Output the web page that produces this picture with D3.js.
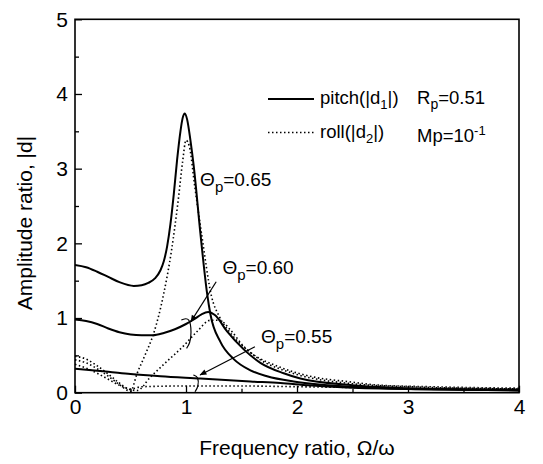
<!DOCTYPE html>
<html>
<head>
<meta charset="utf-8">
<script src="https://cdn.jsdelivr.net/npm/d3@7"></script>
<style>
  body { margin: 0; background: #fff; }
  svg { display: block; }
  text { font-family: "Liberation Sans", Arial, sans-serif; fill: #000; }
</style>
</head>
<body>
<svg id="viz" width="543" height="464"></svg>
<script>
(function () {
  "use strict";

  // Tick values
  const xTicks = [0, 1, 2, 3, 4];
  const xMinor = [0.5, 1.5, 2.5, 3.5];
  const yTicks = [0, 1, 2, 3, 4, 5];
  const yMinor = [0.5, 1.5, 2.5, 3.5, 4.5];

  // Pitch curves |d1| : [freq ratio, amplitude]
  const pitch065 = [[0,1.71],[0.1,1.68],[0.2,1.62],[0.3,1.55],[0.4,1.48],[0.53,1.43],[0.6,1.44],
    [0.66,1.47],[0.72,1.53],[0.77,1.64],[0.8,1.76],[0.83,1.96],[0.86,2.26],[0.89,2.66],[0.92,3.12],
    [0.95,3.5],[0.97,3.68],[0.99,3.74],[1.01,3.66],[1.04,3.38],
    [1.07,3.03],[1.13,2.13],[1.19,1.33],[1.22,1.05],[1.31,0.68],[1.43,0.45],[1.58,0.30],
    [1.73,0.22],[1.97,0.15],[2.2,0.11],[2.5,0.08],[3.0,0.05],[3.5,0.04],[4.0,0.03]];
  const pitch060 = [[0,0.98],[0.1,0.96],[0.2,0.92],[0.3,0.86],[0.4,0.81],[0.5,0.78],[0.6,0.77],
    [0.7,0.77],[0.8,0.8],[0.9,0.85],[1.0,0.92],[1.07,0.98],[1.14,1.05],[1.2,1.08],[1.26,1.04],
    [1.37,0.82],[1.52,0.58],[1.67,0.4],[1.88,0.26],[2.03,0.19],[2.5,0.1],[3.0,0.06],[3.5,0.04],[4.0,0.03]];
  const pitch055 = [[0,0.32],[0.3,0.28],[0.5,0.25],[0.77,0.22],[1.13,0.19],[1.58,0.15],
    [1.85,0.13],[2.1,0.1],[2.45,0.07],[3.0,0.05],[4.0,0.04]];

  // Roll curves |d2|
  const roll065 = [[0,0.44],[0.1,0.4],[0.2,0.32],[0.3,0.22],[0.4,0.11],[0.5,0.02],[0.56,0.26],
    [0.63,0.5],[0.71,0.8],[0.8,1.33],[0.87,1.91],[0.93,2.58],[0.97,3.1],[1.0,3.38],[1.03,3.3],
    [1.08,2.75],[1.14,2.13],[1.23,1.29],[1.3,1.02],[1.4,0.8],[1.58,0.54],[1.85,0.34],
    [2.15,0.21],[2.45,0.15],[2.75,0.1],[3.2,0.08],[4.0,0.06]];
  const roll060 = [[0,0.49],[0.1,0.45],[0.2,0.36],[0.3,0.25],[0.4,0.13],[0.5,0.04],[0.56,0.03],
    [0.68,0.21],[0.8,0.38],[0.98,0.63],[1.1,0.82],[1.22,0.97],[1.3,0.97],[1.4,0.84],[1.52,0.62],
    [1.67,0.44],[1.88,0.3],[2.03,0.23],[2.5,0.12],[3.0,0.08],[4.0,0.05]];
  const roll055 = [[0,0.38],[0.1,0.33],[0.2,0.26],[0.3,0.18],[0.4,0.1],[0.5,0.05],[0.6,0.08],
    [1.0,0.09],[1.5,0.09],[2.0,0.08],[2.5,0.07],[3.0,0.06],[4.0,0.05]];

  const pitchSeries = [pitch065, pitch060, pitch055];
  const rollSeries = [roll065, roll060, roll055];

  // Annotations (data units)
  const labels = [
    { text: "0.65", at: [1.127, 2.77] },
    { text: "0.60", at: [1.328, 1.59] },
    { text: "0.55", at: [1.676, 0.66] }
  ];
  const arrows = [
    [[1.272, 1.486], [1.044, 0.951]],
    [[1.621, 0.616], [1.127, 0.237]]
  ];
  const brackets = [
    [[0.958, 0.973], [1.035, 1.018], [1.050, 0.795], [1.035, 0.661], [1.005, 0.594]],
    [[1.066, 0.237], [1.112, 0.214], [1.112, 0.080], [1.081, 0.013]]
  ];

  /*
  |--------------------------------------------------------------------------
  | Layout
  |--------------------------------------------------------------------------
  */
  let plot = { left: 75, right: 519, top: 19.3, bottom: 392.7 };

  let x = d3.scaleLinear().domain([0, 4]).range([plot.left, plot.right]);
  let y = d3.scaleLinear().domain([0, 5]).range([plot.bottom, plot.top]);

  let svg = d3.select("#viz");

  svg.append("defs").append("marker")
    .attr("id", "arrow")
    .attr("viewBox", "0 0 10 10")
    .attr("refX", 9).attr("refY", 5)
    .attr("markerWidth", 9).attr("markerHeight", 7)
    .attr("markerUnits", "userSpaceOnUse")
    .attr("orient", "auto")
    .append("path")
    .attr("d", "M0,1 L10,5 L0,9 Z")
    .attr("fill", "#000");

  // frame
  svg.append("rect")
    .attr("x", plot.left).attr("y", plot.top)
    .attr("width", plot.right - plot.left)
    .attr("height", plot.bottom - plot.top)
    .attr("fill", "none").attr("stroke", "#000").attr("stroke-width", 1.6);

  // axes
  svg.append("g")
    .attr("transform", `translate(0,${plot.bottom})`)
    .call(d3.axisBottom(x).tickValues(xTicks).tickSize(-7).tickSizeOuter(0).tickPadding(6).tickFormat(d3.format("d")));
  svg.append("g")
    .attr("transform", `translate(0,${plot.bottom})`)
    .call(d3.axisBottom(x).tickValues(xMinor).tickSize(-4).tickSizeOuter(0).tickFormat(""));
  svg.append("g")
    .attr("transform", `translate(${plot.left},0)`)
    .call(d3.axisLeft(y).tickValues(yTicks).tickSize(-7).tickSizeOuter(0).tickPadding(7).tickFormat(d3.format("d")));
  svg.append("g")
    .attr("transform", `translate(${plot.left},0)`)
    .call(d3.axisLeft(y).tickValues(yMinor).tickSize(-4).tickSizeOuter(0).tickFormat(""));

  svg.selectAll(".domain").remove();
  svg.selectAll(".tick line").attr("stroke", "#000").attr("stroke-width", 1.3);
  svg.selectAll(".tick text").attr("font-size", 21).attr("font-family", "Liberation Sans, Arial, sans-serif");

  // axis titles
  svg.append("text")
    .attr("x", (plot.left + plot.right) / 2).attr("y", 455)
    .attr("text-anchor", "middle").attr("font-size", 21)
    .text("Frequency ratio, \u03A9/\u03C9");
  svg.append("text")
    .attr("transform", `translate(32,223) rotate(-90)`)
    .attr("text-anchor", "middle").attr("font-size", 21)
    .text("Amplitude ratio, |d|");

  // curves
  let line = d3.line()
    .x(d => x(d[0])).y(d => y(d[1]))
    .curve(d3.curveMonotoneX);

  svg.append("g").selectAll("path")
    .data(pitchSeries).enter().append("path")
    .attr("d", line)
    .attr("fill", "none").attr("stroke", "#000").attr("stroke-width", 2);

  svg.append("g").selectAll("path")
    .data(rollSeries).enter().append("path")
    .attr("d", line)
    .attr("fill", "none").attr("stroke", "#000").attr("stroke-width", 1.6)
    .attr("stroke-dasharray", "1.5,2.5");

  // annotations
  let ann = svg.append("g");
  labels.forEach(function (l) {
    let t = ann.append("text")
      .attr("x", x(l.at[0])).attr("y", y(l.at[1]))
      .attr("font-size", 19);
    t.append("tspan").text("\u0398");
    t.append("tspan").attr("dy", 6).attr("font-size", 15).text("p");
    t.append("tspan").attr("dy", -6).text("=" + l.text);
  });

  ann.selectAll(".arrow")
    .data(arrows).enter().append("line")
    .attr("x1", d => x(d[0][0])).attr("y1", d => y(d[0][1]))
    .attr("x2", d => x(d[1][0])).attr("y2", d => y(d[1][1]))
    .attr("stroke", "#000").attr("stroke-width", 1.2)
    .attr("marker-end", "url(#arrow)");

  let bline = d3.line().x(d => x(d[0])).y(d => y(d[1])).curve(d3.curveBasis);
  ann.selectAll(".bracket")
    .data(brackets).enter().append("path")
    .attr("d", bline)
    .attr("fill", "none").attr("stroke", "#000").attr("stroke-width", 1.2);

  // legend
  let legend = svg.append("g");
  legend.append("line")
    .attr("x1", 268).attr("x2", 314).attr("y1", 99).attr("y2", 99)
    .attr("stroke", "#000").attr("stroke-width", 2);
  legend.append("line")
    .attr("x1", 268).attr("x2", 314).attr("y1", 132.5).attr("y2", 132.5)
    .attr("stroke", "#000").attr("stroke-width", 1.6).attr("stroke-dasharray", "1.5,2.5");

  let t1 = legend.append("text").attr("x", 320).attr("y", 104).attr("font-size", 18.5);
  t1.append("tspan").text("pitch(|d");
  t1.append("tspan").attr("dy", 5).attr("font-size", 13).text("1");
  t1.append("tspan").attr("dy", -5).text("|)");

  let t2 = legend.append("text").attr("x", 320).attr("y", 137.5).attr("font-size", 18.5);
  t2.append("tspan").text("roll(|d");
  t2.append("tspan").attr("dy", 5).attr("font-size", 13).text("2");
  t2.append("tspan").attr("dy", -5).text("|)");

  let t3 = legend.append("text").attr("x", 417).attr("y", 104).attr("font-size", 18.5);
  t3.append("tspan").text("R");
  t3.append("tspan").attr("dy", 5).attr("font-size", 14).text("p");
  t3.append("tspan").attr("dy", -5).text("=0.51");

  let t4 = legend.append("text").attr("x", 417).attr("y", 141.5).attr("font-size", 18.5);
  t4.append("tspan").text("Mp=10");
  t4.append("tspan").attr("dy", -7).attr("font-size", 13).text("-1");

})();
</script>
</body>
</html>
